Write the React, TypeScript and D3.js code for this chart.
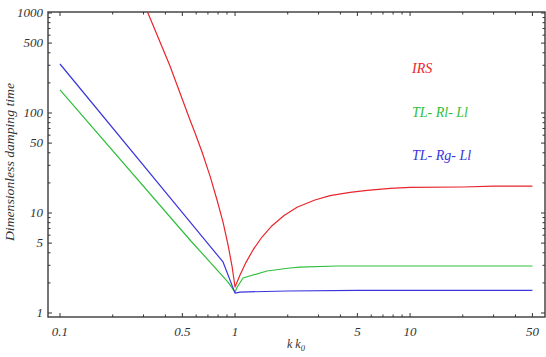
import { useEffect, useRef } from "react";
import * as d3 from "d3";

// valeurs
const kIRS = [0.25, 0.318, 0.425, 0.553, 0.591, 0.648, 0.72, 0.789, 0.854, 0.912, 0.961, 1.0, 1.068, 1.155, 1.267, 1.426, 1.627, 1.906, 2.26, 2.86, 3.49, 4.54, 5.69, 7.69, 10, 20, 30, 50];
const vIRS = [2810, 1000, 295, 85, 63, 40.7, 23.4, 13.5, 8.1, 4.79, 2.95, 1.82, 2.4, 3.21, 4.27, 5.75, 7.46, 9.44, 11.4, 13.5, 14.9, 16.1, 16.8, 17.6, 18, 18.2, 18.6, 18.6];

const kRl = [0.1, 0.553, 0.912, 1.0, 1.03, 1.11, 1.52, 2.06, 2.35, 3.83, 5, 10, 20, 50];
const vRl = [170, 5.37, 2.04, 1.62, 1.82, 2.24, 2.63, 2.82, 2.88, 2.95, 2.95, 2.95, 2.95, 2.95];

const kRg = [0.1, 0.553, 0.854, 1.0, 1.07, 2, 5, 10, 50];
const vRg = [309, 8.13, 3.24, 1.58, 1.62, 1.66, 1.68, 1.68, 1.68];

const xLabels = [0.1, 0.5, 1, 5, 10, 50];
const yLabels = [1, 5, 10, 50, 100, 500, 1000];

const seriesNames = ["IRS", "TL- Rl- Ll", "TL- Rg- Ll"];
const seriesColors = ["#e8262c", "#2fbf3c", "#3a35dc"];

const W = 546;
const H = 357;
const frame = { left: 48, right: 545, top: 12, bottom: 317 };
const FONT = "'Liberation Serif', 'Times New Roman', serif";

const App = () => {
  const ref = useRef<SVGSVGElement>(null);

  useEffect(() => {
    const svg = d3.select(ref.current);
    svg.selectAll("*").remove();

    const x = d3.scaleLog().domain([0.0854, 59]).range([frame.left, frame.right]);
    const y = d3.scaleLog().domain([0.912, 1023]).range([frame.bottom, frame.top]);

    // graduations mineures
    const xTicks: number[] = [];
    [0.1, 1, 10].forEach((d) => d3.range(1, 10).forEach((m) => xTicks.push(+(d * m).toPrecision(3))));
    const yTicks: number[] = [];
    [1, 10, 100].forEach((d) => d3.range(1, 10).forEach((m) => yTicks.push(d * m)));
    yTicks.push(1000);

    svg.append("defs").append("clipPath").attr("id", "clip")
      .append("rect")
      .attr("x", frame.left).attr("y", frame.top)
      .attr("width", frame.right - frame.left).attr("height", frame.bottom - frame.top);

    const ticks = svg.append("g").attr("stroke", "#333").attr("stroke-width", 1);
    xTicks.filter((t) => t >= 0.1 && t <= 59).forEach((t) => {
      const len = xLabels.includes(t) ? 4 : 2.5;
      ticks.append("line").attr("x1", x(t)).attr("x2", x(t)).attr("y1", frame.bottom).attr("y2", frame.bottom - len);
      ticks.append("line").attr("x1", x(t)).attr("x2", x(t)).attr("y1", frame.top).attr("y2", frame.top + len);
    });
    yTicks.forEach((t) => {
      const len = yLabels.includes(t) ? 4 : 2.5;
      ticks.append("line").attr("y1", y(t)).attr("y2", y(t)).attr("x1", frame.left).attr("x2", frame.left + len);
      ticks.append("line").attr("y1", y(t)).attr("y2", y(t)).attr("x1", frame.right).attr("x2", frame.right - len);
    });

    // cadre
    svg.append("rect")
      .attr("x", frame.left).attr("y", frame.top)
      .attr("width", frame.right - frame.left).attr("height", frame.bottom - frame.top)
      .attr("fill", "none").attr("stroke", "#3a3a3a").attr("stroke-width", 1.4);

    const fmt = d3.format("~g");
    svg.append("g").selectAll("text").data(xLabels).join("text")
      .attr("x", (d) => x(d)).attr("y", 336)
      .attr("text-anchor", "middle")
      .attr("font-family", FONT).attr("font-style", "italic").attr("font-size", 13)
      .attr("fill", "#333")
      .text((d) => fmt(d));

    svg.append("g").selectAll("text").data(yLabels).join("text")
      .attr("x", 43).attr("y", (d) => y(d) + 4)
      .attr("text-anchor", "end")
      .attr("font-family", FONT).attr("font-style", "italic").attr("font-size", 13)
      .attr("fill", "#333")
      .text((d) => fmt(d));

    // titres des axes
    const xt = svg.append("text")
      .attr("x", 287).attr("y", 348)
      .attr("font-family", FONT).attr("font-style", "italic").attr("font-size", 12)
      .attr("fill", "#333");
    xt.append("tspan").text("k  k");
    xt.append("tspan").attr("dy", 2.5).attr("font-size", 8.5).text("0");

    svg.append("text")
      .attr("transform", "translate(14,162) rotate(-90)")
      .attr("text-anchor", "middle")
      .attr("font-family", FONT).attr("font-style", "italic").attr("font-size", 12)
      .attr("fill", "#333")
      .attr("textLength", 158).attr("lengthAdjust", "spacingAndGlyphs")
      .text("Dimensionless damping time");

    const line = d3.line<[number, number]>()
      .x((d) => x(d[0]))
      .y((d) => y(d[1]));

    const series = [
      d3.zip(kIRS, vIRS),
      d3.zip(kRl, vRl),
      d3.zip(kRg, vRg),
    ] as [number, number][][];

    const plot = svg.append("g").attr("clip-path", "url(#clip)");
    series.forEach((s, i) => {
      plot.append("path")
        .datum(s)
        .attr("fill", "none")
        .attr("stroke", seriesColors[i])
        .attr("stroke-width", 1.2)
        .attr("stroke-linejoin", "round")
        .attr("d", line);
    });

    // légende
    svg.append("g").selectAll("text").data(seriesNames).join("text")
      .attr("x", 412).attr("y", (d, i) => 73 + i * 43.5)
      .attr("font-family", FONT).attr("font-style", "italic").attr("font-size", 14)
      .attr("fill", (d, i) => seriesColors[i])
      .text((d) => d);
  }, []);

  return (
    <svg ref={ref} width={W} height={H} style={{ position: "absolute", left: 0, top: 0, background: "#fff" }} />
  );
};

export default App;
